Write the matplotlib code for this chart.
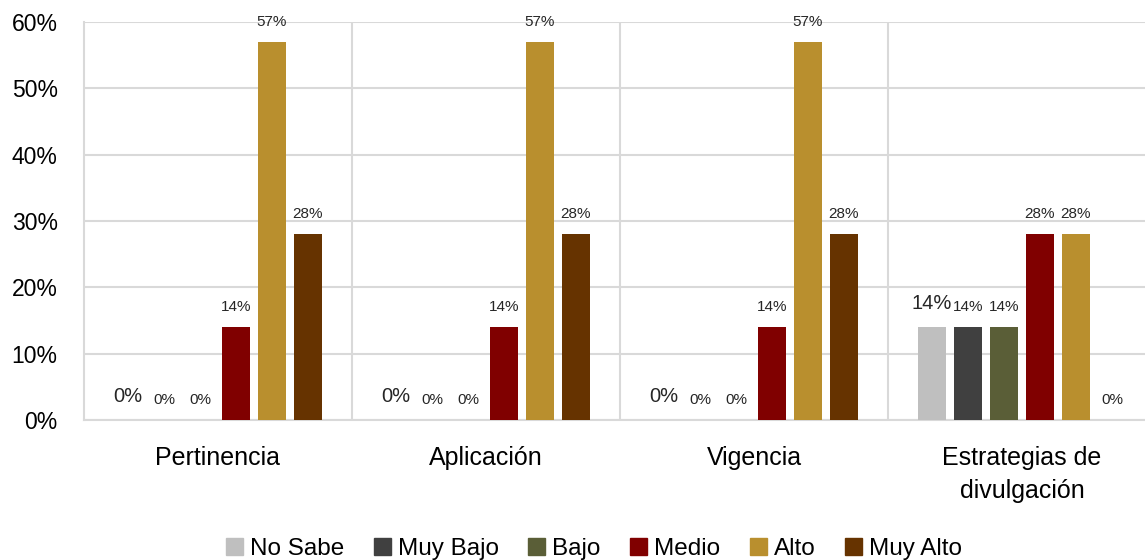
import matplotlib.pyplot as plt
import numpy as np
from matplotlib.patches import Patch

plt.rcParams['font.family'] = ['Liberation Sans', 'DejaVu Sans']

categories = ['Pertinencia', 'Aplicación', 'Vigencia', 'Estrategias de\ndivulgación']
series = ['No Sabe', 'Muy Bajo', 'Bajo', 'Medio', 'Alto', 'Muy Alto']
colors = ['#BFBFBF', '#404040', '#5A5E37', '#800000', '#B98F2E', '#663300']

no_sabe = [0, 0, 0, 14]
muy_bajo = [0, 0, 0, 14]
bajo = [0, 0, 0, 14]
medio = [14, 14, 14, 28]
alto = [57, 57, 57, 28]
muy_alto = [28, 28, 28, 0]
values = [no_sabe, muy_bajo, bajo, medio, alto, muy_alto]

fig = plt.figure(figsize=(11.45, 5.6), dpi=100)
ax = fig.add_axes([84 / 1145, 140 / 560, 1061 / 1145, 398 / 560])

x = np.arange(len(categories))
step = 36 / 268
width = 28 / 268
for i, (name, vals, col) in enumerate(zip(series, values, colors)):
    pos = x + (i - 2.5) * step
    ax.bar(pos, vals, width=width, color=col, label=name, zorder=3)
    for p, v in zip(pos, vals):
        big = i == 0
        ax.annotate(f'{v}%', (p, v), xytext=(0, 13 if big else 11.5),
                    textcoords='offset points', ha='center', va='baseline',
                    fontsize=14.5 if big else 11, color='#262626')

ax.set_ylim(0, 60)
ax.set_xlim(-0.5, -0.5 + 1061 / 268)
ax.set_yticks(range(0, 61, 10))
ax.set_yticklabels([f'{t}%' for t in range(0, 61, 10)])
ax.set_xticks(x)
ax.set_xticklabels(categories, linespacing=1.45)
ax.tick_params(axis='y', length=0, pad=19, labelsize=16.5, labelcolor='#000000')
ax.tick_params(axis='x', length=0, pad=19, labelsize=18, labelcolor='#000000')

ax.grid(axis='y', color='#D9D9D9', linewidth=1.5, zorder=0)
for b in [0.5, 1.5, 2.5]:
    ax.axvline(b, color='#D9D9D9', linewidth=1.5, zorder=0)
for s in ['top', 'right']:
    ax.spines[s].set_visible(False)
for s in ['left', 'bottom']:
    ax.spines[s].set_color('#D9D9D9')
    ax.spines[s].set_linewidth(1.5)

handles = [Patch(color=c, label=n) for n, c in zip(series, colors)]
fig.legend(handles=handles, loc='center', bbox_to_anchor=(594 / 1145, 1 - 549 / 560),
           ncol=6, frameon=False, fontsize=17.5, handlelength=0.7, handleheight=0.7,
           handletextpad=0.3, columnspacing=1.2, borderpad=0)

fig.savefig('out.png', dpi=100)
